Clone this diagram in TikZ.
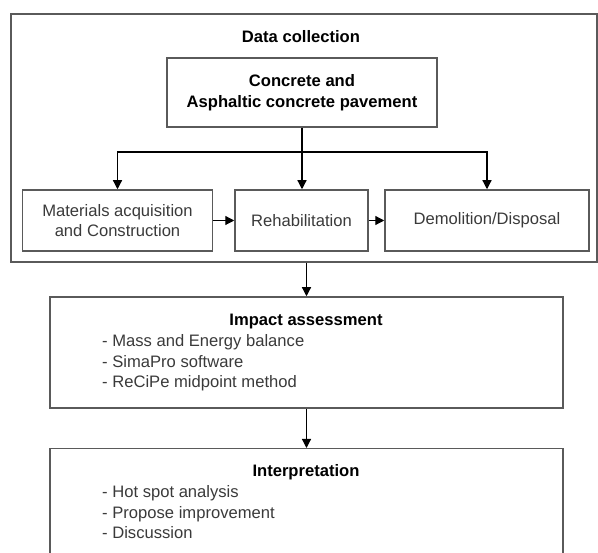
\documentclass[tikz,border=0pt]{standalone}
\usepackage{fontspec}
\setmainfont{Liberation Sans}
\usetikzlibrary{arrows.meta}
\definecolor{boxgray}{HTML}{5A5A5A}
\definecolor{txtgray}{HTML}{3A3A3A}
\begin{document}
\begin{tikzpicture}[x=1pt,y=-1pt,
  box/.style={draw=boxgray, line width=1.5pt, rectangle, inner sep=0pt},
  arr/.style={line width=1.2pt, draw=black, -{Triangle[length=9pt,width=9pt]}},
  plain/.style={line width=1.2pt, draw=black},
  txt/.style={font=\fontsize{16.6}{20.5}\selectfont, text=txtgray, inner sep=0pt},
  ttl/.style={font=\fontsize{16.6}{20.5}\selectfont\bfseries, text=black, inner sep=0pt}]
\useasboundingbox (0,0) rectangle (598,553);
\clip (0,0) rectangle (598,553);
% outer data collection frame
\node[box, minimum width=586, minimum height=248] (outer) at (304,138) {};
\node[ttl] (dc) at (301,37) {Data collection};
% top box
\node[box, ttl, align=center, minimum width=270, minimum height=69] (top) at (302,92.5)
  {Concrete and\\Asphaltic concrete pavement};
% stage boxes
\node[box, txt, align=center, minimum width=190, minimum height=61] (b1) at (117.5,220.5)
  {Materials acquisition\\and Construction};
\node[box, txt, align=center, minimum width=133, minimum height=61] (b2) at (301.5,220.5)
  {Rehabilitation};
\node[box, txt, align=center, minimum width=204, minimum height=61] (b3) at (487,220.5)
  {Demolition/Disposal};
% branching connectors
\coordinate (j) at (302,152);
\draw[plain] (top.south) -- (j);
\draw[arr] (j) -| (b1.north);
\draw[arr] (j) -| (b3.north);
\draw[arr] (j) -- (j |- b2.north);
\draw[arr] (b1.east) -- (b2.west);
\draw[arr] (b2.east) -- (b3.west);
% impact assessment
\node[box, minimum width=513, minimum height=111] (imp) at (306.5,352.5) {};
\node[ttl] (impt) at (306,322) {Impact assessment};
\node[txt, align=left, anchor=north west] (impl) at (102,334.5)
  {- Mass and Energy balance\\- SimaPro software\\- ReCiPe midpoint method};
\draw[arr] (imp.north |- outer.south) -- (imp.north);
% interpretation
\node[box, minimum width=513, minimum height=130, anchor=north] (int) at (306.5,448) {};
\node[ttl] (intt) at (306,472) {Interpretation};
\node[txt, align=left, anchor=north west] (intl) at (102,485.5)
  {- Hot spot analysis\\- Propose improvement\\- Discussion};
\draw[arr] (imp.south) -- (int.north);
\end{tikzpicture}
\end{document}
